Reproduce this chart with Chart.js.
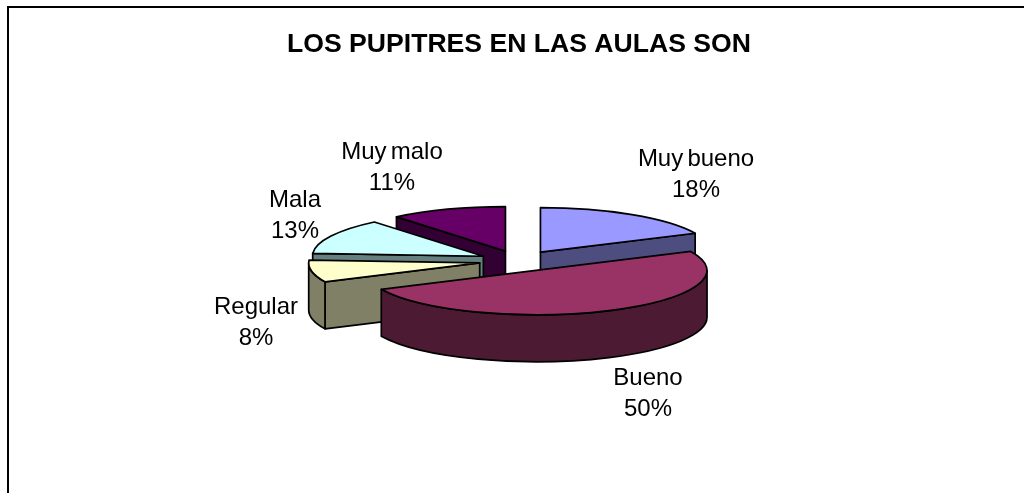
<!DOCTYPE html>
<html>
<head>
<meta charset="utf-8">
<title>Pupitres</title>
<script src="https://cdn.jsdelivr.net/npm/chart.js@4/dist/chart.umd.js"></script>
<style>
  html, body { margin: 0; padding: 0; background: #fff; overflow: hidden; }
  #wrap { position: relative; width: 1024px; height: 493px; }
</style>
</head>
<body>
<div id="wrap"><canvas id="pieChart"></canvas></div>
<script>
  const categories = ["Muy bueno", "Bueno", "Regular", "Mala", "Muy malo"];
  const percents = [18, 50, 8, 13, 11];

  const topColors = ["#9999FF", "#993366", "#FFFFCC", "#CCFFFF", "#660066"];
  const sideColors = ["#4D4D80", "#4D1A33", "#808066", "#668080", "#330033"];

  // back to front, so nearer slices cover the ones behind
  const paintOrder = [4, 0, 3, 2, 1];
  // centre of each two-line label
  const labelX = [696, 648, 256, 295, 392];
  const labelY = [174.5, 394, 322.5, 216, 168];

  const TILT = 0.26;
  const DEPTH = 47;
  const EXPLODE = 40;

  function drawSlice(ctx, arc, top, side) {
    const s = arc.startAngle, e = arc.endAngle, r = arc.outerRadius;
    const mid = (s + e) / 2;
    const cx = arc.x + Math.cos(mid) * EXPLODE;
    const cy = arc.y + Math.sin(mid) * EXPLODE * TILT;
    const px = (a) => cx + Math.cos(a) * r;
    const py = (a) => cy + Math.sin(a) * r * TILT;

    const paint = (fill) => {
      ctx.fillStyle = fill;
      ctx.fill();
      ctx.stroke();
    };
    const wall = (a) => {
      ctx.beginPath();
      ctx.moveTo(cx, cy);
      ctx.lineTo(px(a), py(a));
      ctx.lineTo(px(a), py(a) + DEPTH);
      ctx.lineTo(cx, cy + DEPTH);
      ctx.closePath();
      paint(side);
    };

    // cut faces only when they look towards the viewer
    if (Math.cos(s) < -1e-6) wall(s);
    if (Math.cos(e) > 1e-6) wall(e);

    // outer rim, front half only
    const a0 = Math.max(s, 0), a1 = Math.min(e, Math.PI);
    if (a1 > a0) {
      ctx.beginPath();
      ctx.ellipse(cx, cy, r, r * TILT, 0, a0, a1);
      ctx.lineTo(px(a1), py(a1) + DEPTH);
      ctx.ellipse(cx, cy + DEPTH, r, r * TILT, 0, a1, a0, true);
      ctx.closePath();
      paint(side);
    }

    ctx.beginPath();
    ctx.moveTo(cx, cy);
    ctx.ellipse(cx, cy, r, r * TILT, 0, s, e);
    ctx.closePath();
    paint(top);
  }

  const tiltedPie = {
    id: 'tiltedPie',
    beforeDraw(chart) {
      // chart frame, only top and left are in view
      const { ctx, width, height } = chart;
      ctx.save();
      ctx.fillStyle = '#000';
      ctx.fillRect(7, 6, width - 7, 2);
      ctx.fillRect(7, 6, 2, height - 6);
      ctx.restore();
    },
    beforeDatasetDraw(chart, args) {
      const { ctx } = chart;
      const arcs = args.meta.data;
      ctx.save();
      ctx.strokeStyle = '#000';
      ctx.lineWidth = 1.7;
      ctx.lineJoin = 'round';
      paintOrder.forEach((i) => drawSlice(ctx, arcs[i], topColors[i], sideColors[i]));
      ctx.restore();
      return false;
    },
    afterDatasetsDraw(chart) {
      const { ctx } = chart;
      const total = percents.reduce((a, b) => a + b, 0);
      ctx.save();
      ctx.fillStyle = '#000';
      ctx.font = '24px "Liberation Sans"';
      ctx.wordSpacing = '-2.5px';
      ctx.textAlign = 'center';
      ctx.textBaseline = 'middle';
      categories.forEach((name, i) => {
        ctx.fillText(name, labelX[i], labelY[i] - 15.5);
        ctx.fillText(Math.round(percents[i] / total * 100) + '%', labelX[i], labelY[i] + 15.5);
      });
      ctx.restore();
    }
  };

  const ctx = document.getElementById("pieChart");

  new Chart(ctx, {
    type: 'pie',
    data: {
      labels: categories,
      datasets: [
        {
          data: percents,
          backgroundColor: topColors,
          borderColor: "#000",
          radius: 171
        }
      ]
    },
    options: {
      responsive: true,
      maintainAspectRatio: false,
      animation: false,
      layout: {
        padding: { left: 14, bottom: 32 }
      },
      plugins: {
        legend: { display: false },
        tooltip: { enabled: false },
        title: {
          display: true,
          text: "LOS PUPITRES EN LAS AULAS SON",
          color: "#000",
          font: { family: 'Liberation Sans', size: 26.6, weight: 'bold' },
          padding: { top: 29, bottom: 0 }
        }
      }
    },
    plugins: [tiltedPie]
  });
</script>
</body>
</html>
